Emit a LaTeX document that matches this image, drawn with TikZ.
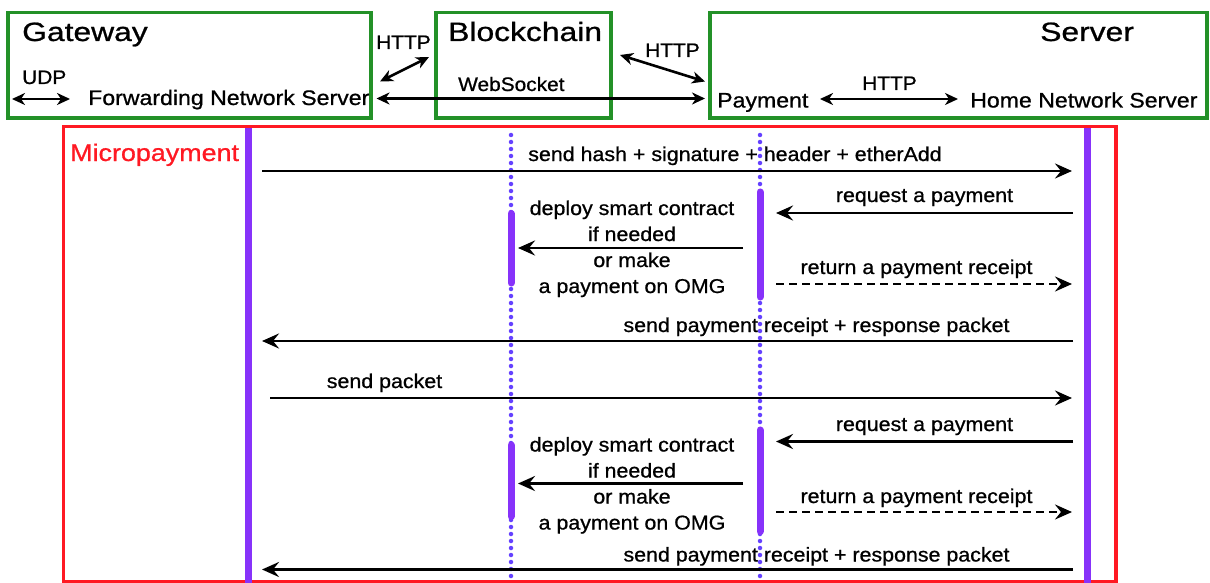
\documentclass[tikz,border=0pt]{standalone}
\usepackage{fontspec}
\setmainfont{Liberation Sans}[FakeBold=0.8]
\usetikzlibrary{arrows.meta}

\definecolor{boxgreen}{RGB}{35,145,40}
\definecolor{framered}{RGB}{255,25,35}
\definecolor{lifeviolet}{RGB}{135,50,250}
\definecolor{dotviolet}{RGB}{100,65,255}

\tikzset{
  ttl/.style={font=\fontsize{26.5}{30}\selectfont, inner sep=0pt, xscale=1.2, anchor=base west},
  midtxt/.style={font=\fontsize{21}{25}\selectfont, inner sep=0pt, xscale=1.1, anchor=base west},
  proto/.style={font=\fontsize{19.5}{23}\selectfont, inner sep=0pt, xscale=1.07, anchor=base west},
  micro/.style={font=\fontsize{24}{28}\selectfont, inner sep=0pt, xscale=1.12, anchor=base west, text=framered},
  msgtxt/.style={font=\fontsize{20}{26}\selectfont, inner sep=0pt, xscale=1.07, anchor=base},
  grp/.style={draw=boxgreen, line width=3.2pt},
  frame/.style={draw=framered, line width=3.5pt},
  lifeline/.style={draw=lifeviolet, line width=7pt},
  dotline/.style={draw=dotviolet, line width=4.5pt, line cap=round, dash pattern=on 0pt off 7pt},
  actbar/.style={draw=lifeviolet, line width=7pt, line cap=round},
  msg/.style={line width=2.8pt, -{Stealth[length=17pt,width=15pt,inset=6pt]}},
  reply/.style={msg, dash pattern=on 8pt off 5pt},
  link/.style={line width=2.6pt, {Stealth[length=13pt,width=12pt,inset=4pt]}-{Stealth[length=13pt,width=12pt,inset=4pt]}}
}

\begin{document}
\begin{tikzpicture}[x=1pt,y=-1pt]
\useasboundingbox (0,0) rectangle (1210,583);

% ---- component boxes ----
\draw[grp] (8,12.5) rectangle (371,118);
\draw[grp] (436,12.5) rectangle (611,118);
\draw[grp] (710,12.5) rectangle (1207,118);

\node[ttl] (gwtitle) at (22,41) {Gateway};
\node[ttl] (bctitle) at (448,41) {Blockchain};
\node[ttl] (svtitle) at (1040,41) {Server};

\node[midtxt] (fns) at (88,105) {Forwarding Network Server};
\node[midtxt] (pay) at (717,107.5) {Payment};
\node[midtxt] (hns) at (970,107.5) {Home Network Server};

% ---- protocol links ----
\coordinate (udpL) at (12,99);
\coordinate (udpR) at (70,99);
\coordinate (gwHttp) at (380,81.5);
\coordinate (bcHttpL) at (429,57);
\coordinate (wsL) at (376.5,98.5);
\coordinate (wsR) at (705,98.5);
\coordinate (bcHttpR) at (620,55);
\coordinate (payHttp) at (705,81.5);
\coordinate (payR) at (820,99);
\coordinate (hnsL) at (958,99);

\draw[link] (udpL) -- (udpR);
\draw[link] (gwHttp) -- (bcHttpL);
\draw[link] (wsL) -- (wsR);
\draw[link] (bcHttpR) -- (payHttp);
\draw[link] (payR) -- (hnsL);

\node[proto] (udplbl) at (22,84) {UDP};
\node[proto] (http1) at (376,49) {HTTP};
\node[proto] (wslbl) at (458,91) {WebSocket};
\node[proto] (http2) at (645,57) {HTTP};
\node[proto] (http3) at (862,90) {HTTP};

% ---- micropayment frame ----
\draw[frame] (63.5,126.5) rectangle (1116,581.5);
\node[micro] (mptitle) at (70,161) {Micropayment};

% ---- lifelines ----
\coordinate (gwTop) at (248,128);
\coordinate (gwBot) at (248,583);
\coordinate (svTop) at (1087,128);
\coordinate (svBot) at (1087,583);
\coordinate (bcTop) at (511,135);
\coordinate (bcBot) at (511,583);
\coordinate (pyTop) at (760,135);
\coordinate (pyBot) at (760,583);

\draw[lifeline] (gwTop) -- (gwBot);
\draw[lifeline] (svTop) -- (svBot);
\draw[dotline] (bcTop) -- (bcBot);
\draw[dotline] (pyTop) -- (pyBot);

% activation bars
\coordinate (pyA1) at (760,192);   \coordinate (pyA2) at (760,297);
\coordinate (pyB1) at (760,430);   \coordinate (pyB2) at (760,531.5);
\coordinate (bcA1) at (511,213.5); \coordinate (bcA2) at (511,283);
\coordinate (bcB1) at (511,445);   \coordinate (bcB2) at (511,516.5);
\draw[actbar] (pyA1) -- (pyA2);
\draw[actbar] (pyB1) -- (pyB2);
\draw[actbar] (bcA1) -- (bcA2);
\draw[actbar] (bcB1) -- (bcB2);

% ---- messages ----
\coordinate (m1a) at (262,171);    \coordinate (m1b) at (1072,171);
\coordinate (m2a) at (1073,213);   \coordinate (m2b) at (776,213);
\coordinate (m3a) at (743,248);    \coordinate (m3b) at (518,248);
\coordinate (m4a) at (776,284);    \coordinate (m4b) at (1072,284);
\coordinate (m5a) at (1073,341);   \coordinate (m5b) at (262,341);
\coordinate (m6a) at (270,398);    \coordinate (m6b) at (1072,398);
\coordinate (m7a) at (1073,441.5); \coordinate (m7b) at (776,441.5);
\coordinate (m8a) at (743,483.5);  \coordinate (m8b) at (518,483.5);
\coordinate (m9a) at (776,512);    \coordinate (m9b) at (1072,512);
\coordinate (m10a) at (1073,569.5);\coordinate (m10b) at (262,569.5);

\draw[msg] (m1a) -- (m1b);
\draw[msg] (m2a) -- (m2b);
\draw[msg] (m3a) -- (m3b);
\draw[reply] (m4a) -- (m4b);
\draw[msg] (m5a) -- (m5b);
\draw[msg] (m6a) -- (m6b);
\draw[msg] (m7a) -- (m7b);
\draw[msg] (m8a) -- (m8b);
\draw[reply] (m9a) -- (m9b);
\draw[msg] (m10a) -- (m10b);

\node[msgtxt] (t1) at (735,161) {send hash + signature + header + etherAdd};
\node[msgtxt] (t2) at (924.5,202) {request a payment};
\node[msgtxt] (t3) at (632,215) {\begin{tabular}[t]{@{}c@{}}deploy smart contract\\ if needed\\ or make\\ a payment on OMG\end{tabular}};
\node[msgtxt] (t4) at (916.5,274) {return a payment receipt};
\node[msgtxt] (t5) at (816.5,332) {send payment receipt + response packet};
\node[msgtxt] (t6) at (384.5,388) {send packet};
\node[msgtxt] (t7) at (924.5,431) {request a payment};
\node[msgtxt] (t8) at (632,451.5) {\begin{tabular}[t]{@{}c@{}}deploy smart contract\\ if needed\\ or make\\ a payment on OMG\end{tabular}};
\node[msgtxt] (t9) at (916.5,503) {return a payment receipt};
\node[msgtxt] (t10) at (816.5,561.5) {send payment receipt + response packet};
\end{tikzpicture}
\end{document}
